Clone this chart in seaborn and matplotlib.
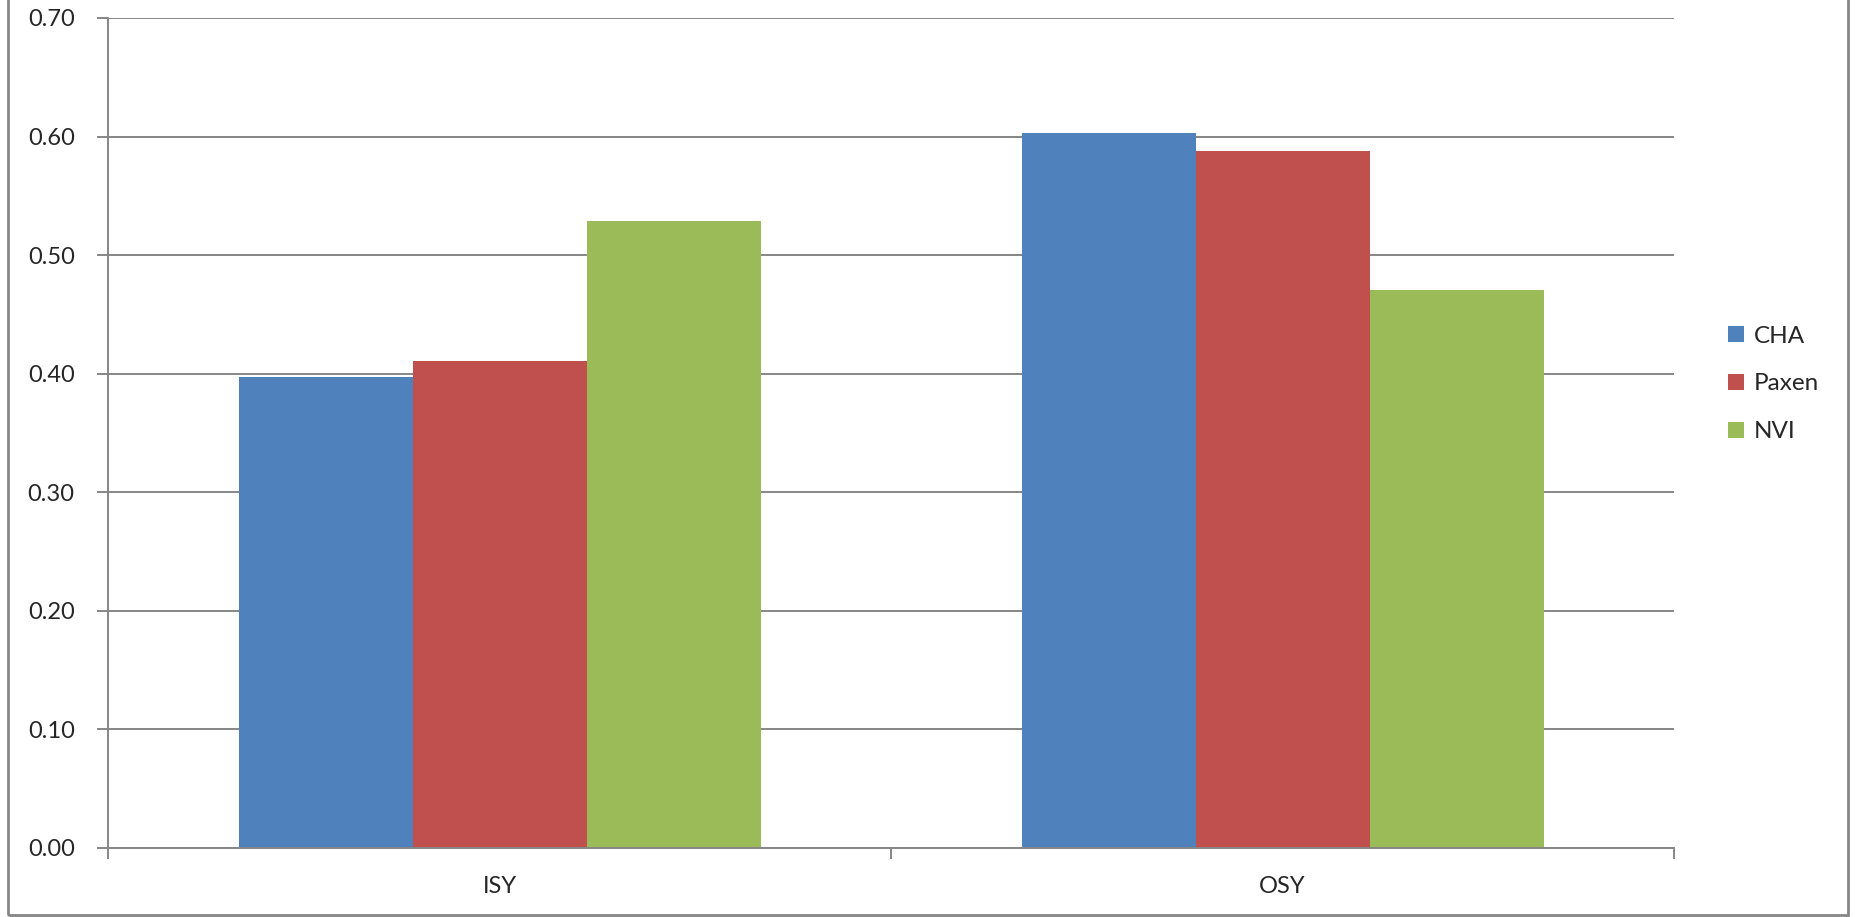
import matplotlib
matplotlib.use("Agg")
import matplotlib.pyplot as plt
from matplotlib.patches import Rectangle
import seaborn as sns
import pandas as pd

# Werte
categories = ["ISY", "OSY"]
series = ["CHA", "Paxen", "NVI"]
cha = [0.397, 0.603]
paxen = [0.411, 0.588]
nvi = [0.529, 0.471]
colors = ["#4F81BD", "#C0504D", "#9BBB59"]

rows = []
for name, vals in zip(series, [cha, paxen, nvi]):
    for cat, v in zip(categories, vals):
        rows.append({"cat": cat, "serie": name, "wert": v})
df = pd.DataFrame(rows)

sns.set_style("white")
plt.rcParams["font.family"] = ["Lato", "DejaVu Sans"]
grey = "#868686"

fig = plt.figure(figsize=(18.55, 9.17), dpi=100)
ax = fig.add_axes([108 / 1855, 69 / 917, (1674 - 108) / 1855, 830 / 917])

sns.barplot(data=df, x="cat", y="wert", hue="serie", hue_order=series,
            palette=colors, width=2 / 3, gap=0, linewidth=0, saturation=1,
            ax=ax)

ax.set_xlim(-0.5, 1.5)
ax.set_ylim(0, 0.7)
ax.set_yticks([i / 10 for i in range(8)])
ax.set_yticklabels([f"{i / 10:.2f}" for i in range(8)])
ax.set_xlabel("")
ax.set_ylabel("")

ax.yaxis.grid(True, color=grey, linewidth=1.4)
ax.set_axisbelow(True)
for side in ["top", "right"]:
    ax.spines[side].set_visible(False)
for side in ["left", "bottom"]:
    ax.spines[side].set_color(grey)
    ax.spines[side].set_linewidth(1.4)

ax.tick_params(axis="y", length=8, width=1.4, color=grey, pad=16,
               labelsize=17, left=True)
ax.set_xticks([-0.5, 0.5, 1.5], minor=True)
ax.tick_params(axis="x", which="minor", length=8, width=1.4, color=grey,
               bottom=True)
ax.tick_params(axis="x", which="major", length=0, pad=20, labelsize=17)

leg = ax.legend(loc="center left", bbox_to_anchor=(1706 / 1855, 533 / 917),
                bbox_transform=fig.transFigure, frameon=False, fontsize=17.5,
                handlelength=0.65, handleheight=0.65, handletextpad=0.4,
                labelspacing=1.1)

# Rahmen um die ganze Grafik
fig.patches.append(Rectangle((8 / 1855, 2 / 917), 1840 / 1855, 1.0,
                             transform=fig.transFigure, fill=False,
                             edgecolor=grey, linewidth=2))

fig.savefig("out.png", dpi=100)
